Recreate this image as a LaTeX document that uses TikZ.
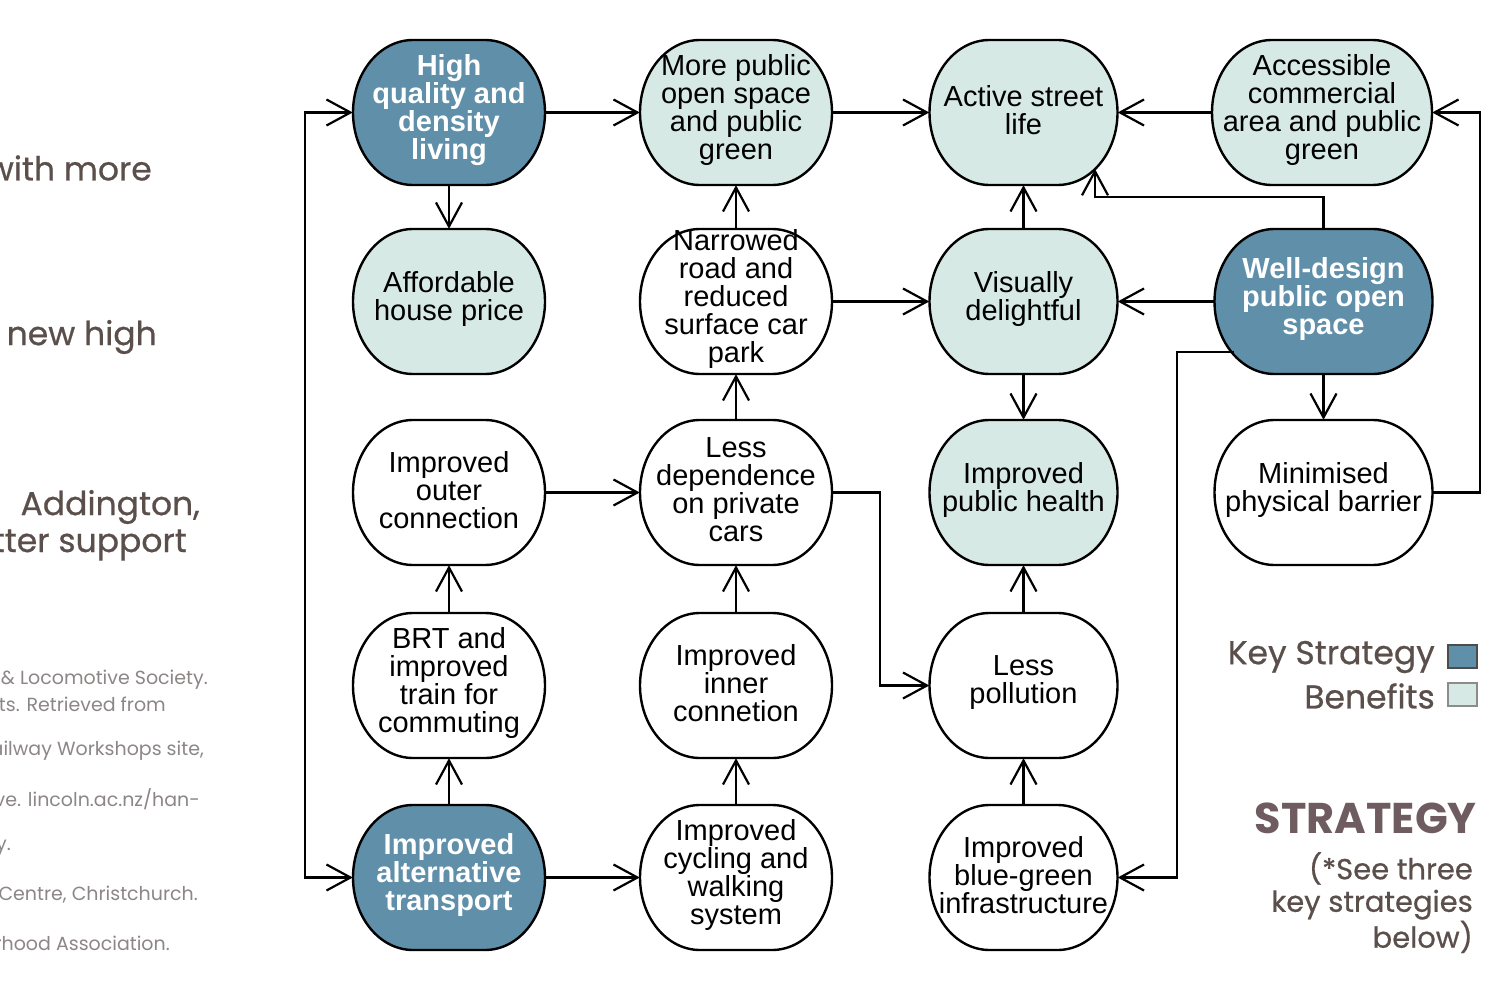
\documentclass[tikz,border=0pt]{standalone}
\usepackage{fontspec}
\setmainfont{Liberation Sans}
\newfontfamily\gothic[FakeBold=0.6]{Poppins}
\newfontfamily\gothicplain{Poppins}
\usetikzlibrary{arrows.meta,positioning}
\definecolor{keyblue}{HTML}{5F8FA9}
\definecolor{benefit}{HTML}{D6E9E5}
\definecolor{sidetext}{HTML}{5B4F4B}
\definecolor{smalltext}{HTML}{8C8786}
\definecolor{strat}{HTML}{6E5C60}
\newcommand{\nodefont}{\fontsize{29}{28}\selectfont}
\newcommand{\nodefontb}{\fontsize{29}{28}\selectfont\bfseries}
\tikzset{
  shapeline/.style={draw=black, line width=2.4pt},
  keyfill/.style={shapeline, fill=keyblue},
  benfill/.style={shapeline, fill=benefit},
  plainfill/.style={shapeline, fill=white},
  anchorbox/.style={inner sep=0pt, minimum height=145pt},
  boxtext/.style={inner sep=0pt, align=center, font=\nodefont},
  keytext/.style={boxtext, text=white, font=\nodefontb},
  arr/.style={line width=2.2pt, -{Straight Barb[length=24pt, width=26pt, line width=2.2pt]}},
  dblarr/.style={line width=2.2pt, {Straight Barb[length=24pt, width=26pt, line width=2.2pt]}-{Straight Barb[length=24pt, width=26pt, line width=2.2pt]}},
  side/.style={anchor=east, text=sidetext, font=\gothic\fontsize{33}{33}\selectfont, inner sep=0pt},
  small/.style={anchor=east, text=smalltext, font=\gothicplain\fontsize{19}{19}\selectfont, inner sep=0pt},
  legend/.style={anchor=east, text=sidetext, font=\gothic\fontsize{33}{33}\selectfont, inner sep=0pt},
}
% #1 name, #2 x, #3 y, #4 width, #5 fill style, #6 text style, #7 text
\newcommand{\blob}[7]{%
  \begin{scope}[shift={(#2,#3)}]
    \path[#5] ({-#4/2+60},-72.5) -- ({#4/2-60},-72.5)
      arc[start angle=-90, end angle=0, x radius=60, y radius=72.5]
      arc[start angle=0, end angle=90, x radius=60, y radius=72.5]
      -- ({-#4/2+60},72.5)
      arc[start angle=90, end angle=180, x radius=60, y radius=72.5]
      arc[start angle=180, end angle=270, x radius=60, y radius=72.5] -- cycle;
  \end{scope}
  \node[anchorbox, minimum width=#4pt] (#1) at (#2,#3) {};%
  \node[#6] (#1-text) at (#2,#3-2.5) {#7};%
}
\begin{document}
\begin{tikzpicture}[x=1pt, y=-1pt]
\useasboundingbox (0,0) rectangle (1505,987);
\fill[white] (0,0) rectangle (1505,987);

% cut-off side text
\node[side] (s1) at (152,168) {with more};
\node[side] (s2) at (157,337) {new high};
\node[side] (s3) at (200,507) {Addington,};
\node[side] (s4) at (187,545) {tter support};
\node[small] (r1) at (208,680) {\& Locomotive Society.};
\node[small] (r2) at (166,704) {nts. Retrieved from};
\node[small] (r3) at (204,751) {ailway Workshops site,};
\node[small] (r4) at (200,799) {ve. lincoln.ac.nz/han-};
\node[small] (r5) at (11,848) {y.};
\node[small] (r6) at (198,895) {Centre, Christchurch.};
\node[small] (r7) at (170,943) {rhood Association.};

% nodes
\blob{hq}{449}{112.5}{192}{keyfill}{keytext}{High\\quality and\\density\\living}
\blob{mpo}{736}{112.5}{192}{benfill}{boxtext}{More public\\open space\\and public\\green}
\blob{asl}{1023.5}{112.5}{188}{benfill}{boxtext}{Active street\\life}
\blob{acc}{1322}{112.5}{220}{benfill}{boxtext}{Accessible\\commercial\\area and public\\green}

\blob{aff}{449}{301.5}{192}{benfill}{boxtext}{Affordable\\house price}
\blob{nar}{736}{301.5}{192}{plainfill}{boxtext}{Narrowed\\road and\\reduced\\surface car\\park}
\blob{vis}{1023.5}{301.5}{188}{benfill}{boxtext}{Visually\\delightful}
\blob{wd}{1323.5}{301.5}{218}{keyfill}{keytext}{Well-design\\public open\\space}

\blob{ioc}{449}{492.5}{192}{plainfill}{boxtext}{Improved\\outer\\connection}
\blob{ldp}{736}{492.5}{192}{plainfill}{boxtext}{Less\\dependence\\on private\\cars}
\blob{iph}{1023.5}{492.5}{188}{benfill}{boxtext}{Improved\\public health}
\blob{mpb}{1323.5}{492.5}{218}{plainfill}{boxtext}{Minimised\\physical barrier}

\blob{brt}{449}{685.5}{192}{plainfill}{boxtext}{BRT and\\improved\\train for\\commuting}
\blob{iic}{736}{685.5}{192}{plainfill}{boxtext}{Improved\\inner\\connetion}
\blob{lp}{1023.5}{685.5}{188}{plainfill}{boxtext}{Less\\pollution}

\blob{iat}{449}{877.5}{192}{keyfill}{keytext}{Improved\\alternative\\transport}
\blob{icw}{736}{877.5}{192}{plainfill}{boxtext}{Improved\\cycling and\\walking\\system}
\blob{ibg}{1023.5}{877.5}{188}{plainfill}{boxtext}{Improved\\blue-green\\infrastructure}

% helper coordinates
\coordinate (aslhit) at (1095,169);
\coordinate (wdexit) at (1234,352);

% connectors
\draw[dblarr] (hq.west) -- (305,112.5) -- (305,877.5) -- (iat.west);
\draw[arr] (hq.east) -- (mpo.west);
\draw[arr] (hq.south) -- (aff.north);
\draw[arr] (mpo.east) -- (asl.west);
\draw[arr] (acc.west) -- (asl.east);
\draw[arr] (nar.north) -- (mpo.south);
\draw[arr] (nar.east) -- (vis.west);
\draw[arr] (vis.north) -- (asl.south);
\draw[arr] (wd.west) -- (vis.east);
\draw[arr] (wd.north) -- (1323.5,197) -- (1095,197) -- (aslhit);
\draw[arr] (wd.south) -- (mpb.north);
\draw[arr] (mpb.east) -- (1480,492.5) -- (1480,112.5) -- (acc.east);
\draw[arr] (wdexit) -- (1177,352) -- (1177,877.5) -- (ibg.east);
\draw[arr] (vis.south) -- (iph.north);
\draw[arr] (ldp.north) -- (nar.south);
\draw[arr] (ioc.east) -- (ldp.west);
\draw[arr] (ldp.east) -- (880,492.5) -- (880,685.5) -- (lp.west);
\draw[arr] (lp.north) -- (iph.south);
\draw[arr] (ibg.north) -- (lp.south);
\draw[arr] (brt.north) -- (ioc.south);
\draw[arr] (iic.north) -- (ldp.south);
\draw[arr] (icw.north) -- (iic.south);
\draw[arr] (iat.north) -- (brt.south);
\draw[arr] (iat.east) -- (icw.west);

% legend
\node[legend] (lk) at (1435,657) {Key Strategy};
\node[legend] (lb) at (1435,696) {Benefits};
\node[draw=black!70, line width=1.2pt, fill=keyblue, minimum width=29pt, minimum height=23pt, inner sep=0pt] (sk) at (1462.5,656.5) {};
\node[draw=black!45, line width=1.2pt, fill=benefit, minimum width=29pt, minimum height=23pt, inner sep=0pt] (sb) at (1462.5,694.5) {};

\node[anchor=east, text=strat, font=\gothicplain\bfseries\fontsize{43}{43}\selectfont, inner sep=0pt] (st) at (1477,818) {STRATEGY};
\node[anchor=north east, text=sidetext, align=right, font=\gothic\fontsize{29}{32.5}\selectfont, inner sep=0pt] (sn) at (1473,852) {(*See three\\key strategies\\below)};
\end{tikzpicture}
\end{document}
